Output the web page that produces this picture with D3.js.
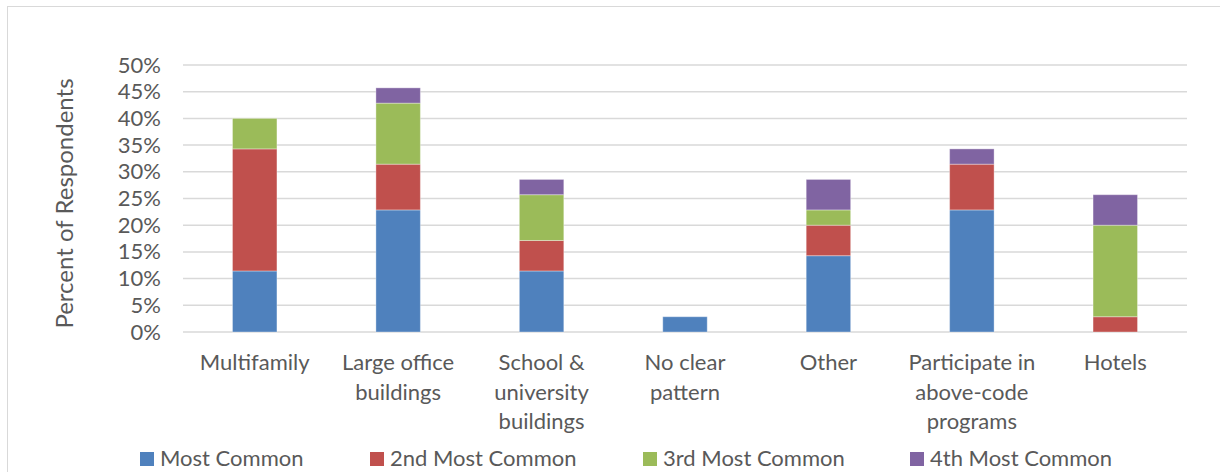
<!DOCTYPE html>
<html>
<head>
<meta charset="utf-8">
<script src="https://cdnjs.cloudflare.com/ajax/libs/d3/7.8.5/d3.min.js"></script>
<style>
  body { margin: 0; background: #fff; }
  svg text { font-family: Lato, "Open Sans", sans-serif; fill: #595959; }
</style>
</head>
<body>
<svg id="chart" width="1220" height="472"></svg>
<script>
// categories and series (percent of respondents)
const categories = [
  ["Multifamily"],
  ["Large office", "buildings"],
  ["School &", "university", "buildings"],
  ["No clear", "pattern"],
  ["Other"],
  ["Participate in", "above-code", "programs"],
  ["Hotels"]
];
const seriesNames = ["Most Common", "2nd Most Common", "3rd Most Common", "4th Most Common"];
const mostCommon    = [11.43, 22.86, 11.43, 2.86, 14.29, 22.86, 0];
const secondCommon  = [22.86, 8.57, 5.71, 0, 5.71, 8.57, 2.86];
const thirdCommon   = [5.71, 11.43, 8.57, 0, 2.86, 0, 17.14];
const fourthCommon  = [0, 2.86, 2.86, 0, 5.71, 2.86, 5.71];
const yTicks = [0, 5, 10, 15, 20, 25, 30, 35, 40, 45, 50];
const colors = ["#4F81BD", "#C0504D", "#9BBB59", "#8064A2"];

const svg = d3.select("#chart");

// outer frame
svg.append("rect")
  .attr("x", 7.5).attr("y", 6.5)
  .attr("width", 1240).attr("height", 480)
  .attr("fill", "none").attr("stroke", "#d9d9d9").attr("stroke-width", 1);

const margin = { left: 183, right: 1187, top: 65, bottom: 332 };

const x = d3.scaleBand()
  .domain(d3.range(categories.length))
  .range([margin.left, margin.right])
  .paddingInner(0.69).paddingOuter(0.345);

const y = d3.scaleLinear().domain([0, 50]).range([margin.bottom, margin.top]);

// gridlines
svg.append("g")
  .selectAll("line")
  .data(yTicks)
  .join("line")
  .attr("x1", margin.left).attr("x2", margin.right)
  .attr("y1", d => y(d)).attr("y2", d => y(d))
  .attr("stroke", "#d9d9d9").attr("stroke-width", 1.5);

// y axis labels
const yAxis = d3.axisLeft(y).tickValues(yTicks).tickSize(0).tickPadding(0)
  .tickFormat(d => d + "%");
svg.append("g")
  .attr("transform", `translate(${margin.left - 22},0)`)
  .call(yAxis)
  .call(g => g.select(".domain").remove())
  .call(g => g.selectAll("text")
    .attr("font-size", 22).attr("fill", "#595959")
    .style("font-family", "Lato, 'Open Sans', sans-serif"));

// stacked bars
const rows = categories.map((c, i) => ({
  i: i,
  "Most Common": mostCommon[i],
  "2nd Most Common": secondCommon[i],
  "3rd Most Common": thirdCommon[i],
  "4th Most Common": fourthCommon[i]
}));
const stacked = d3.stack().keys(seriesNames)(rows);

svg.append("g")
  .selectAll("g")
  .data(stacked)
  .join("g")
  .attr("fill", (d, k) => colors[k])
  .selectAll("rect")
  .data(d => d.filter(p => p[1] - p[0] > 0))
  .join("rect")
  .attr("x", d => x(d.data.i))
  .attr("width", x.bandwidth())
  .attr("y", d => y(d[1]))
  .attr("height", d => y(d[0]) - y(d[1]))
  .attr("stroke", "rgba(255,255,255,0.35)")
  .attr("stroke-width", 1);

// category labels
const catG = svg.append("g");
categories.forEach((lines, i) => {
  const t = catG.append("text")
    .attr("x", x(i) + x.bandwidth() / 2)
    .attr("y", 370)
    .attr("text-anchor", "middle")
    .attr("font-size", 22);
  lines.forEach((l, j) => {
    t.append("tspan").attr("x", x(i) + x.bandwidth() / 2)
      .attr("dy", j === 0 ? 0 : 29.5).text(l);
  });
});

// y axis title
svg.append("text")
  .attr("transform", `translate(73,${(margin.top + margin.bottom) / 2 + 5}) rotate(-90)`)
  .attr("text-anchor", "middle")
  .attr("font-size", 24)
  .text("Percent of Respondents");

// legend
const legendX = [140, 370, 643, 910];
const legend = svg.append("g");
seriesNames.forEach((name, k) => {
  legend.append("rect")
    .attr("x", legendX[k]).attr("y", 452)
    .attr("width", 14).attr("height", 14)
    .attr("fill", colors[k]);
  legend.append("text")
    .attr("x", legendX[k] + 20).attr("y", 466)
    .attr("font-size", 22)
    .text(name);
});
</script>
</body>
</html>
